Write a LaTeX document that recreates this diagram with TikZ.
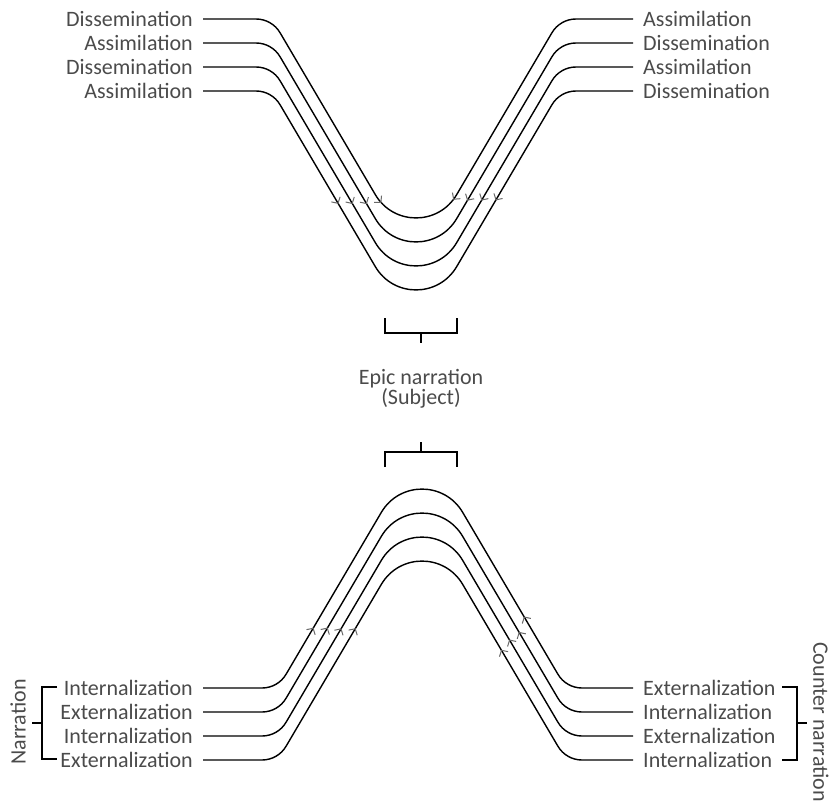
\documentclass[tikz,border=0pt]{standalone}
\usepackage{fontspec}
\setmainfont{Carlito}
\usetikzlibrary{arrows.meta,decorations.markings}

\definecolor{labelgray}{RGB}{75,75,75}
\definecolor{tipgray}{RGB}{105,105,105}

\tikzset{
  lbl/.style={font=\fontsize{22}{26}\selectfont, text=labelgray, inner xsep=10pt, inner ysep=0pt},
  flow/.style={line width=1.4pt, black, postaction={decorate}},
  brace/.style={line width=1.6pt, black},
  barb/.tip={Straight Barb[length=4.5pt,width=10pt,line width=1pt]}
}

\begin{document}
\begin{tikzpicture}[x=1pt,y=-1pt]
\useasboundingbox (0,0) rectangle (833,806);

% upper family: valleys, flows run from both ends towards the centre
\foreach \i/\y/\a/\b/\L in {1/19/Dissemination/Assimilation/280,
                            2/43/Assimilation/Dissemination/253,
                            3/67/Dissemination/Assimilation/225,
                            4/91/Assimilation/Dissemination/197}{
  \node[lbl, anchor=east] (tl\i) at (203,\y) {\a};
  \node[lbl, anchor=west] (tr\i) at (633,\y) {\b};
  \draw[flow, decoration={markings,
        mark=at position \L pt with {\arrow[tipgray]{barb}},
        mark=at position -\L pt with {\arrowreversed[tipgray]{barb}}}]
    (tl\i.east) -- (256,\y)
    .. controls (265.9,\y) and (275.1,\y+5.25) .. (280.1,\y+13.8)
    -- (375.3,\y+175.6)
    .. controls (393.6,\y+206.7) and (438.4,\y+206.7) .. (456.7,\y+175.6)
    -- (551.9,\y+13.8)
    .. controls (556.9,\y+5.25) and (566.1,\y) .. (576,\y)
    -- (tr\i.west);
}

% lower family: hills, flows climb from both ends towards the summit
\foreach \i/\y/\a/\b/\L/\R in {1/688/Internalization/Externalization/142/147,
                               2/712/Externalization/Internalization/170/157,
                               3/736/Internalization/Externalization/197/176,
                               4/760/Externalization/Internalization/225/192}{
  \node[lbl, anchor=east] (bl\i) at (203,\y) {\a};
  \node[lbl, anchor=west] (br\i) at (633,\y) {\b};
  \draw[flow, decoration={markings,
        mark=at position \L pt with {\arrow[tipgray]{barb}},
        mark=at position -\R pt with {\arrowreversed[tipgray]{barb}}}]
    (bl\i.east) -- (262,\y)
    .. controls (271.9,\y) and (281.1,\y-5.25) .. (286.1,\y-13.8)
    -- (381.3,\y-175.6)
    .. controls (399.6,\y-206.7) and (444.4,\y-206.7) .. (462.7,\y-175.6)
    -- (557.9,\y-13.8)
    .. controls (562.9,\y-5.25) and (572.1,\y) .. (582,\y)
    -- (br\i.west);
}

% central subject with its two brackets
\node[font=\fontsize{22}{20}\selectfont, text=labelgray, align=center, inner sep=0pt]
  (epic) at (421,389) {Epic narration\\(Subject)};
\draw[brace] (385,318) -- (385,333) -- (457,333) -- (457,318);
\draw[brace] (421,333) -- (421,343);
\draw[brace] (385,467) -- (385,452) -- (457,452) -- (457,467);
\draw[brace] (421,452) -- (421,442);

% side groupings
\node[lbl, inner sep=0pt, rotate=90] (narr) at (18,722) {Narration};
\node[lbl, inner sep=0pt, rotate=-90] (cnarr) at (821,722) {Counter narration};
\draw[brace] (57,687) -- (42,687) -- (42,759) -- (57,759);
\draw[brace] (32,723) -- (42,723);
\draw[brace] (782,687) -- (797,687) -- (797,760) -- (782,760);
\draw[brace] (797,723) -- (807,723);
\end{tikzpicture}
\end{document}
